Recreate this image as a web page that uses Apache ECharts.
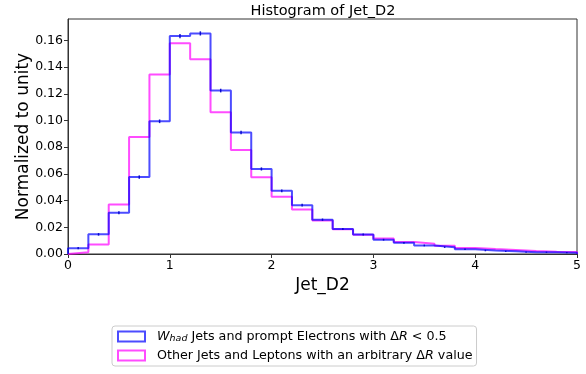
<!DOCTYPE html>
<html><head><meta charset="utf-8">
<script src="https://cdn.jsdelivr.net/npm/echarts@6/dist/echarts.min.js"></script>
<style>html,body{margin:0;padding:0;background:#fff}#c{width:586px;height:374px}</style>
</head><body><div id="c"></div>
<script>
const binEdges = [0,0.2,0.4,0.6,0.8,1.0,1.2,1.4,1.6,1.8,2.0,2.2,2.4,2.6,2.8,3.0,3.2,3.4,3.6,3.8,4.0,4.2,4.4,4.6,4.8,5.0];
const whadValues = [0.0044,0.0147,0.0309,0.0576,0.0994,0.1632,0.1652,0.1224,0.0910,0.0637,0.0473,0.0366,0.0257,0.0187,0.0146,0.0107,0.0084,0.0064,0.0051,0.0036,0.0026,0.0020,0.0014,0.0013,0.0010];
const whadErrors = [0.0004,0.0006,0.0008,0.0009,0.0010,0.0012,0.0012,0.0010,0.0009,0.0008,0.0007,0.0006,0.0005,0.0004,0.0004,0.0003,0.0003,0.0003,0.0002,0.0002,0.0002,0.0001,0.0001,0.0001,0.0001];
const otherValues = [0.0013,0.0072,0.0371,0.0877,0.1344,0.1578,0.1458,0.1062,0.0778,0.0575,0.0428,0.0334,0.0250,0.0185,0.0145,0.0117,0.0090,0.0076,0.0061,0.0045,0.0037,0.0030,0.0022,0.0017,0.0015];
const xTicks = [0,1,2,3,4,5];
const yTickInterval = 0.02;

function stepData(vals){
  const d = [[binEdges[0],0]];
  for(let i=0;i<vals.length;i++) d.push([binEdges[i], vals[i]]);
  d.push([binEdges[binEdges.length-1], vals[vals.length-1]]);
  d.push([binEdges[binEdges.length-1], 0]);
  return d;
}
const errData = whadValues.map((v,i)=>[(binEdges[i]+binEdges[i+1])/2, v-whadErrors[i], v+whadErrors[i]]);

const FONT = 'DejaVu Sans';
const chart = echarts.init(document.getElementById('c'));
chart.setOption({
  animation:false,
  textStyle:{fontFamily:FONT},
  title:{text:'Histogram of Jet_D2', left:323, textAlign:'center', top:4, padding:0,
    textStyle:{fontFamily:FONT, fontSize:14.5, fontWeight:'normal', color:'#000'}},
  grid:{left:68, right:9, top:19, bottom:120, show:true, borderColor:'#333', borderWidth:1, outerBoundsMode:'none', containLabel:false},
  xAxis:{type:'value', min:0, max:5, interval:1, name:'Jet_D2', nameLocation:'middle', nameGap:23, nameMoveOverlap:false,
    nameTextStyle:{fontFamily:FONT, fontSize:17, color:'#000'},
    axisLine:{lineStyle:{color:'#333'}}, axisTick:{show:true, length:4, lineStyle:{color:'#333'}},
    axisLabel:{fontFamily:FONT, fontSize:12.5, color:'#000', margin:5}, splitLine:{show:false}},
  yAxis:{type:'value', min:0, max:0.176, interval:yTickInterval, name:'Normalized to unity', nameLocation:'middle', nameGap:36, nameMoveOverlap:false,
    nameTextStyle:{fontFamily:FONT, fontSize:17, color:'#000'},
    axisLine:{show:true, lineStyle:{color:'#333'}}, axisTick:{show:true, length:4, lineStyle:{color:'#333'}},
    axisLabel:{fontFamily:FONT, fontSize:12.5, color:'#000', margin:5, showMaxLabel:false, formatter:v=>v.toFixed(2)},
    splitLine:{show:false}},
  legend:{orient:'vertical', left:112, top:326, itemWidth:27, itemHeight:10, itemGap:5,
    padding:[4,4,4,5], borderColor:'#ccc', borderWidth:1, borderRadius:3,
    textStyle:{fontFamily:FONT, fontSize:12.7, color:'#000',
      rich:{n:{fontFamily:FONT,fontSize:12.7,color:'#000'}, i:{fontFamily:FONT,fontSize:12.7,fontStyle:'italic',color:'#000'},
            f:{fontFamily:FONT,fontSize:12.7,fontStyle:'italic',color:'#000', padding:[0,0,0,7]},
            g:{fontFamily:FONT,fontSize:12.7,color:'#000', padding:[0,0,0,7]},
            s:{fontFamily:FONT,fontSize:9.5,fontStyle:'italic',color:'#000', padding:[5,0,0,0]}}},
    formatter:function(name){
      if(name==='whad') return '{f|W}{s|had}{n| Jets and prompt Electrons with Δ}{i|R}{n| < 0.5}';
      return '{g|Other Jets and Leptons with an arbitrary Δ}{i|R}{n| value}';
    },
    data:[{name:'whad', icon:'rect', itemStyle:{color:'rgba(0,0,0,0)', borderColor:'rgba(0,0,255,0.7)', borderWidth:2}},
          {name:'other', icon:'rect', itemStyle:{color:'rgba(0,0,0,0)', borderColor:'rgba(255,0,255,0.7)', borderWidth:2}}]},
  series:[
    {name:'other', type:'line', step:'end', data:stepData(otherValues), showSymbol:false, symbol:'none',
      lineStyle:{color:'rgba(255,0,255,0.7)', width:2}, itemStyle:{color:'rgba(255,0,255,0.7)'}, z:2},
    {name:'whad', type:'line', step:'end', data:stepData(whadValues), showSymbol:false, symbol:'none',
      lineStyle:{color:'rgba(0,0,255,0.7)', width:2}, itemStyle:{color:'rgba(0,0,255,0.7)'}, z:3},
    {name:'whad_err', type:'custom', data:errData, z:4,
      renderItem:function(params, api){
        const x = api.value(0);
        const p1 = api.coord([x, api.value(1)]);
        const p2 = api.coord([x, api.value(2)]);
        return {type:'line', shape:{x1:p1[0], y1:p1[1]+0.5, x2:p2[0], y2:p2[1]-0.5}, style:{stroke:'rgba(0,0,200,0.9)', lineWidth:1.5}};
      }}
  ]
});
</script></body></html>
